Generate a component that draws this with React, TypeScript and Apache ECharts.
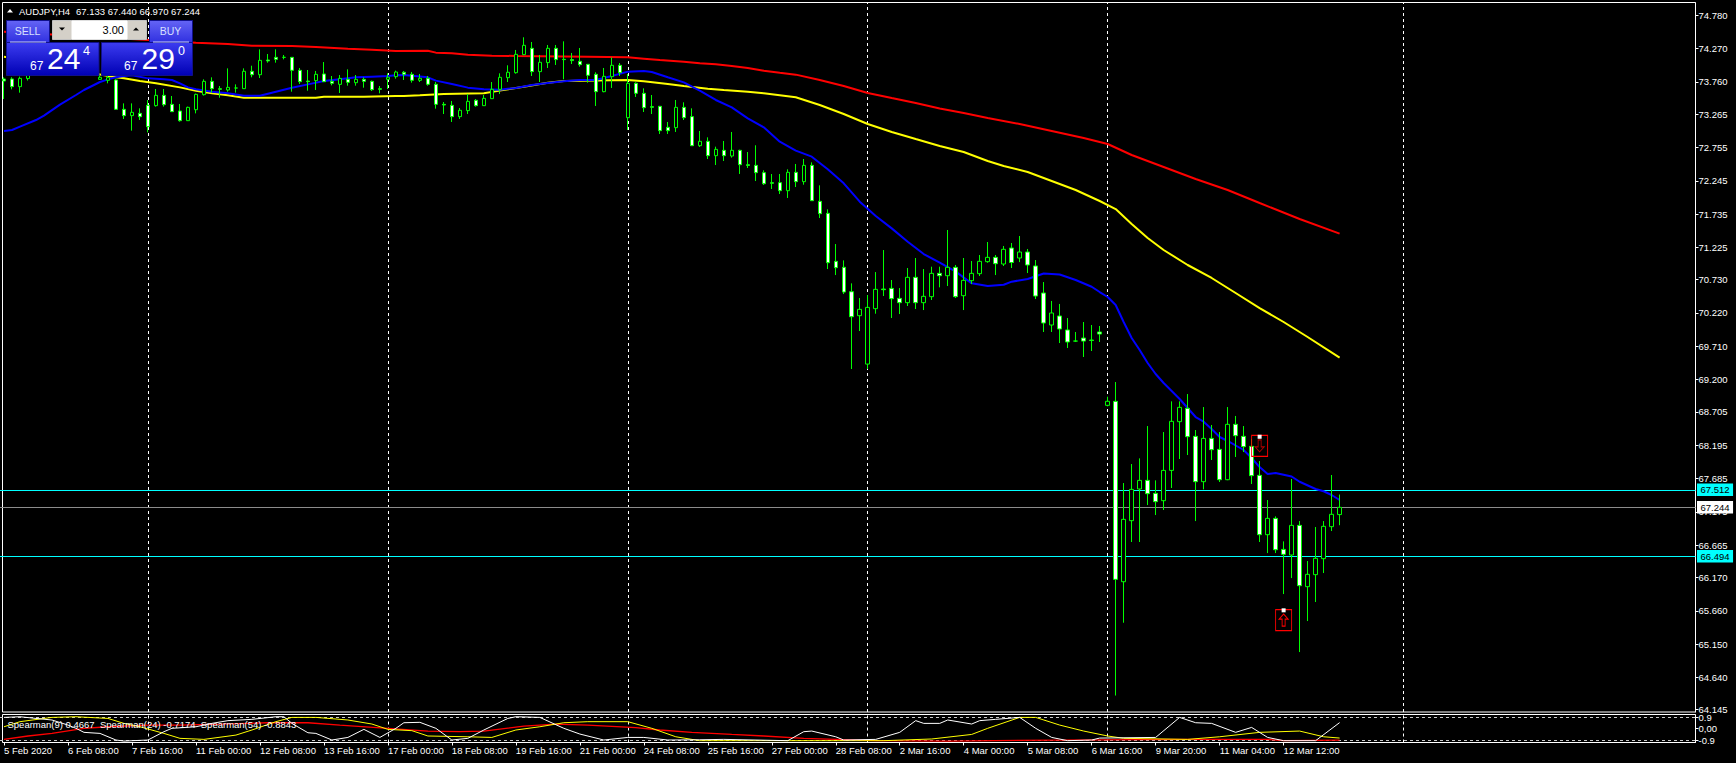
import React, { useEffect, useRef } from "react";
import * as echarts from "echarts";

const tickLabels = ["5 Feb 2020","6 Feb 08:00","7 Feb 16:00","11 Feb 00:00","12 Feb 08:00","13 Feb 16:00","17 Feb 00:00","18 Feb 08:00","19 Feb 16:00","21 Feb 00:00","24 Feb 08:00","25 Feb 16:00","27 Feb 00:00","28 Feb 08:00","2 Mar 16:00","4 Mar 00:00","5 Mar 08:00","6 Mar 16:00","9 Mar 20:00","11 Mar 04:00","12 Mar 12:00"];
const priceTicks = [74.78,74.27,73.76,73.265,72.755,72.245,71.735,71.225,70.73,70.22,69.71,69.2,68.705,68.195,67.685,67.175,66.665,66.17,65.66,65.15,64.64,64.145];
const oscTicks = [0.9,0,-0.9];

const opens = [
73.803,73.803,73.686,73.81,73.95,74.02,73.96,74.08,74.03,73.97,
74.05,73.98,73.798,73.783,73.788,73.339,73.242,73.277,73.40,73.395,
73.553,73.415,73.313,73.165,73.333,73.563,73.767,73.655,73.635,73.665,
73.655,73.921,73.869,74.094,74.135,74.135,74.135,73.936,73.772,73.778,
73.88,73.767,73.721,73.798,73.747,73.798,73.767,73.655,73.798,73.839,
73.906,73.875,73.783,73.814,73.722,73.415,73.40,73.227,73.319,73.477,
73.395,73.502,73.645,73.824,73.90,74.176,74.273,73.916,74.054,74.273,
74.105,74.10,74.074,74.028,73.875,73.609,73.839,74.013,73.211,73.737,
73.584,73.38,73.385,73.063,73.058,73.369,73.227,72.782,72.849,72.629,
72.711,72.624,72.711,72.491,72.481,72.369,72.216,72.216,72.093,72.374,
72.231,72.481,71.93,71.746,71.011,70.92,70.546,70.179,69.438,70.286,
70.587,70.597,70.444,70.378,70.766,70.378,70.47,70.827,70.791,70.919,
70.485,70.715,70.822,71.006,71.072,70.97,71.215,71.062,71.154,70.94,
70.526,70.036,70.174,69.96,69.79,69.836,69.806,69.929,68.806,68.867,
66.105,67.04,67.525,67.657,67.458,67.346,67.81,68.556,68.76,68.331,
67.637,68.30,68.132,67.667,68.515,68.331,68.178,67.734,66.825,67.075,
66.60,66.514,66.968,66.029,66.213,66.458,66.948,67.133];
const closes = [
73.773,73.686,73.813,73.95,74.02,73.96,74.08,74.03,73.97,74.05,
73.98,73.88,73.829,73.824,73.339,73.242,73.293,73.226,73.073,73.553,
73.41,73.303,73.165,73.369,73.568,73.767,73.655,73.645,73.675,73.665,
73.921,73.869,74.089,74.08,74.104,74.135,73.936,73.762,73.762,73.875,
73.762,73.737,73.813,73.752,73.798,73.767,73.64,73.645,73.829,73.91,
73.875,73.783,73.814,73.722,73.415,73.405,73.227,73.324,73.461,73.395,
73.507,73.645,73.829,73.906,74.181,74.319,73.916,74.059,74.273,74.10,
74.10,74.085,74.023,73.86,73.609,73.844,74.013,73.90,73.737,73.584,
73.364,73.37,73.012,73.012,73.369,73.211,72.782,72.849,72.629,72.726,
72.629,72.711,72.491,72.48,72.369,72.20,72.206,72.093,72.374,72.231,
72.481,71.94,71.741,70.99,70.914,70.541,70.163,70.276,70.306,70.582,
70.577,70.439,70.378,70.766,70.378,70.475,70.827,70.791,70.919,70.47,
70.72,70.827,71.011,71.072,70.975,71.195,70.993,71.154,70.955,70.48,
70.067,70.22,69.975,69.776,69.79,69.79,69.80,69.898,68.868,66.141,
67.06,67.519,67.657,67.453,67.331,67.81,68.561,68.775,68.326,67.637,
68.30,68.127,67.667,68.515,68.341,68.173,67.729,66.825,67.075,66.595,
66.524,66.968,66.044,66.218,66.463,66.953,67.137,67.244];
const lows = [
73.497,73.645,73.594,73.78,73.90,73.92,73.94,73.98,73.93,73.94,
73.92,73.86,73.79,73.737,73.33,73.191,73.012,73.175,72.986,73.38,
73.38,73.30,73.15,73.16,73.277,73.55,73.594,73.517,73.609,73.594,
73.65,73.829,73.818,74.053,74.053,74.104,73.609,73.727,73.624,73.635,
73.757,73.706,73.589,73.701,73.701,73.67,73.619,73.584,73.65,73.808,
73.788,73.747,73.757,73.701,73.349,73.267,73.145,73.191,73.267,73.38,
73.39,73.50,73.574,73.757,73.885,74.17,73.849,73.757,73.972,74.018,
73.798,74.033,73.992,73.747,73.39,73.60,73.666,73.849,73.022,73.528,
73.298,73.267,72.961,72.961,72.992,73.175,72.777,72.762,72.578,72.486,
72.548,72.599,72.349,72.44,72.241,72.18,72.119,72.042,71.981,72.149,
72.185,71.935,71.674,70.893,70.801,70.51,69.362,69.944,69.362,70.209,
70.48,70.143,70.204,70.327,70.281,70.265,70.419,70.613,70.633,70.449,
70.265,70.664,70.786,70.99,70.801,70.939,70.909,70.999,70.832,70.434,
69.929,69.929,69.76,69.684,69.776,69.546,69.638,69.776,68.79,64.362,
65.477,66.713,66.713,67.279,67.126,67.203,67.54,67.984,68.045,67.034,
67.519,67.969,67.632,67.66,68.015,68.091,67.601,66.713,66.544,66.544,
65.916,66.161,65.028,65.503,65.794,66.238,66.881,66.97];
const highs = [
73.829,73.83,73.84,74.00,74.08,74.06,74.14,74.12,74.06,74.10,
74.08,74.00,73.86,73.85,73.80,73.43,73.43,73.354,73.481,73.65,
73.65,73.543,73.42,73.38,73.58,73.798,73.829,73.696,73.966,73.721,
73.966,74.007,74.257,74.186,74.257,74.171,74.14,73.972,73.941,73.926,
74.063,73.849,73.864,73.951,73.864,73.829,73.78,73.696,73.89,73.931,
73.926,73.911,73.88,73.849,73.757,73.451,73.467,73.359,73.574,73.497,
73.558,73.757,73.89,74.013,74.248,74.442,74.37,74.171,74.324,74.324,
74.38,74.202,74.278,74.03,73.906,73.972,74.135,74.048,73.88,73.752,
73.66,73.558,73.39,73.145,73.482,73.446,73.354,73.007,72.91,72.767,
72.854,72.992,72.72,72.685,72.788,72.405,72.348,72.348,72.42,72.502,
72.578,72.527,72.175,71.807,71.276,71.026,70.674,70.449,70.495,70.847,
71.184,70.725,70.602,70.909,71.062,70.893,70.929,70.929,71.491,70.955,
71.062,71.016,71.108,71.307,71.108,71.246,71.292,71.399,71.20,71.031,
70.694,70.404,70.358,70.143,69.929,70.082,70.036,70.021,68.938,69.163,
67.616,67.907,67.994,68.489,67.657,68.397,68.867,68.867,68.979,68.428,
68.78,68.505,68.397,68.78,68.643,68.489,68.29,67.953,67.356,67.106,
66.723,67.678,67.034,66.422,66.943,67.034,67.739,67.44];

const blueMA = [[0,73.007],[1,73.022],[2,73.073],[4,73.175],[5,73.242],[7,73.41],[9,73.558],[10,73.635],[12,73.757],[13,73.798],[14,73.829],[15,73.849],[16,73.859],[18,73.813],[20,73.798],[21,73.788],[22,73.737],[23,73.675],[24,73.645],[26,73.609],[28,73.584],[30,73.548],[32,73.548],[34,73.609],[36,73.67],[38,73.721],[40,73.772],[42,73.798],[44,73.829],[46,73.839],[48,73.849],[49,73.859],[50,73.865],[53,73.829],[54,73.778],[56,73.727],[58,73.671],[60,73.645],[62,73.64],[64,73.666],[66,73.712],[68,73.742],[70,73.768],[72,73.788],[74,73.788],[76,73.849],[78,73.916],[80,73.926],[81,73.911],[83,73.829],[85,73.752],[87,73.625],[89,73.482],[91,73.369],[93,73.2],[95,73.063],[97,72.843],[99,72.706],[101,72.614],[103,72.42],[105,72.205],[107,71.925],[109,71.705],[111,71.516],[113,71.312],[115,71.123],[117,70.99],[119,70.853],[121,70.674],[123,70.633],[125,70.653],[126,70.7],[128,70.74],[130,70.825],[132,70.809],[134,70.725],[136,70.622],[137,70.541],[138,70.465],[139,70.342],[140,70.082],[141,69.837],[142,69.653],[143,69.454],[144,69.286],[145,69.148],[147,68.903],[148,68.765],[149,68.627],[150,68.555],[151,68.443],[152,68.321],[153,68.26],[155,68.122],[156,68.0],[157,67.86],[158,67.754],[159,67.77],[161,67.716],[162,67.636],[164,67.525],[165,67.49],[166,67.433],[167,67.356]];
const yellowMA = [[0,74.145],[5,74.043],[10,73.915],[14,73.829],[15,73.813],[17,73.772],[19,73.737],[22,73.675],[24,73.624],[26,73.584],[28,73.553],[30,73.517],[39,73.517],[40,73.533],[45,73.533],[49,73.543],[50,73.543],[52,73.553],[55,73.574],[60,73.584],[62,73.625],[65,73.686],[68,73.747],[70,73.773],[78,73.788],[80,73.768],[83,73.727],[85,73.696],[88,73.655],[90,73.635],[93,73.609],[95,73.584],[99,73.523],[102,73.405],[105,73.267],[108,73.114],[111,72.992],[114,72.884],[117,72.777],[120,72.685],[123,72.547],[125,72.471],[128,72.379],[131,72.241],[134,72.103],[137,71.935],[139,71.812],[141,71.583],[143,71.368],[145,71.185],[148,70.955],[151,70.756],[154,70.526],[157,70.296],[160,70.082],[163,69.852],[167,69.537]];
const redMA = [[0,74.528],[24,74.36],[28,74.339],[31,74.314],[36,74.309],[39,74.293],[43,74.268],[46,74.252],[49,74.232],[53,74.237],[54,74.207],[56,74.197],[58,74.176],[61,74.161],[64,74.156],[73,74.145],[78,74.135],[80,74.115],[82,74.094],[85,74.069],[87,74.043],[89,74.028],[91,74.003],[93,73.972],[95,73.931],[97,73.9],[99,73.87],[102,73.788],[105,73.696],[108,73.589],[111,73.512],[114,73.436],[117,73.351],[120,73.282],[123,73.206],[127,73.114],[131,73.007],[135,72.9],[138,72.808],[141,72.639],[145,72.456],[149,72.272],[153,72.103],[157,71.904],[162,71.659],[167,71.436]];

const oscWhite = [[0,.87],[2,.92],[4,.79],[6,.67],[8,.28],[9,.03],[10,-.28],[12,-.36],[14,-.87],[15,-.95],[18,-.87],[20,-.23],[21,.03],[24,.15],[26,.41],[28,.62],[31,.72],[34,.92],[35,.92],[36,.41],[38,-.31],[39,-.36],[41,-.87],[43,-.67],[45,-.05],[47,-.67],[49,.03],[50,.46],[52,.49],[54,.03],[56,-.87],[58,-.74],[60,-.1],[63,.79],[64,.92],[67,.87],[70,.03],[72,-.41],[75,-.87],[78,-.67],[80,-.67],[83,-.87],[87,-.85],[90,-.82],[98,-.92],[100,-.23],[101,-.18],[104,-.62],[105,-.87],[109,-.82],[112,-.28],[114,.62],[115,.41],[117,.41],[118,.67],[121,.36],[122,.62],[124,.72],[127,.87],[129,.03],[131,-.67],[133,-.92],[136,-.87],[137,-.72],[144,-.67],[147,.87],[149,.46],[151,.41],[154,-.28],[156,.1],[158,-.67],[160,-.92],[164,-.92],[167,.4667]];
const oscYellow = [[0,.15],[2,.54],[6,.87],[9,.92],[13,.79],[15,.41],[17,.15],[20,-.36],[22,-.74],[25,-.82],[29,-.49],[31,-.1],[34,.54],[36,.87],[39,.87],[43,.67],[46,.36],[48,-.05],[51,-.15],[53,-.56],[58,-.62],[61,-.67],[64,-.1],[67,.15],[70,.46],[73,.54],[78,.54],[81,.03],[84,-.62],[87,-.92],[110,-.92],[116,-.79],[121,-.44],[123,.03],[127,.87],[129,.87],[132,.28],[135,-.18],[138,-.56],[140,-.74],[148,-.82],[152,-.62],[157,-.28],[162,-.18],[165,-.62],[167,-.7174]];
const oscRed = [[0,-.82],[3,-.56],[6,-.36],[10,.03],[13,.15],[18,.28],[22,.28],[27,.36],[33,.46],[38,.46],[42,.28],[48,.03],[53,-.18],[57,-.23],[60,-.18],[65,.2],[69,.36],[73,.28],[79,.08],[82,-.1],[86,-.28],[91,-.44],[95,-.56],[100,-.74],[104,-.82],[109,-.92],[118,-.95],[132,-.87],[148,-.82],[158,-.82],[160,-.92],[167,-.8843]];

const separators = [18,48,78,108,138,175];
const supportLevels = [67.512,66.494];
const lastPrice = 67.244;
const sellMarker = [157,68.186];
const sellDot = [157,68.325];
const buyMarker = [160,65.518];
const buyDot = [160,65.667];

const BAR_SLOTS = 212;
const LABEL_EVERY = 8;
const FONT = "'Liberation Sans', Arial, sans-serif";
const GREEN = "#00ff00";
const categories = Array.from({ length: BAR_SLOTS }, (_, i) => (i % LABEL_EVERY === 0 ? tickLabels[i / LABEL_EVERY] ?? "" : ""));
const candles = opens.map((o, i) => [o, closes[i], lows[i], highs[i]]);

const downArrow = "path://M3 0 L6 0 L6 7 L9 7 L4.5 12 L0 7 L3 7 Z";
const upArrow = "path://M4.5 0 L9 5 L6 5 L6 12 L3 12 L3 5 L0 5 Z";

const txt = (text: string, x: number, y: number, fontSize: number, fill = "#fff", align = "left") => ({
  type: "text", x, y, z: 101, silent: true,
  style: { text, fontSize, fill, fontFamily: FONT, align, verticalAlign: "middle" },
});
const panelFill = (c1: string, c2: string) => new echarts.graphic.LinearGradient(0, 0, 0, 1, [{ offset: 0, color: c1 }, { offset: 1, color: c2 }]);
const box = (x: number, y: number, width: number, height: number, fill: any, stroke = "#10108c") => ({
  type: "rect", z: 100, silent: true, shape: { x, y, width, height }, style: { fill, stroke, lineWidth: 1 },
});
const tri = (points: number[][], fill: string, z = 101) => ({ type: "polygon", z, silent: true, shape: { points }, style: { fill } });

function buildOption() {
  const vLines = separators.map((xAxis) => ({ xAxis }));
  const sepStyle = { color: "#ffffff", type: [3, 3], width: 1 };
  const hLabel = (bg: string) => ({
    show: true, position: "end", distance: 1.5, color: "#000", backgroundColor: bg,
    fontSize: 9.5, fontFamily: FONT, padding: [1.5, 3.5, 1, 3.5],
    formatter: (p: any) => Number(p.value).toFixed(3),
  });
  return {
    animation: false,
    backgroundColor: "#000",
    grid: [
      { left: -0.5, width: 1696, top: 3, height: 709 },
      { left: -0.5, width: 1696, top: 715, height: 27.5 },
    ],
    xAxis: [
      { type: "category", gridIndex: 0, data: categories, show: false },
      {
        type: "category", gridIndex: 1, data: categories, position: "bottom",
        axisLine: { show: false, onZero: false },
        axisTick: { show: true, alignWithLabel: true, length: 3, lineStyle: { color: "#fff" }, interval: (_: number, v: string) => v !== "" },
        axisLabel: { color: "#fff", fontSize: 9.5, fontFamily: FONT, align: "left", margin: 3, interval: LABEL_EVERY - 1, hideOverlap: false },
      },
    ],
    yAxis: [
      {
        type: "value", gridIndex: 0, position: "right", min: 64.11, max: 74.967, scale: true, splitLine: { show: false },
        axisLine: { show: true, lineStyle: { color: "#fff" } },
        axisTick: { show: true, length: 3, lineStyle: { color: "#fff" }, customValues: priceTicks },
        axisLabel: { color: "#fff", fontSize: 9.5, fontFamily: FONT, margin: 3, customValues: priceTicks, formatter: (v: number) => v.toFixed(3), showMinLabel: true, showMaxLabel: true },
      },
      {
        type: "value", gridIndex: 1, position: "right", min: -1.06, max: 1.054, splitLine: { show: false },
        axisLine: { show: true, lineStyle: { color: "#fff" } },
        axisTick: { show: true, length: 3, lineStyle: { color: "#fff" }, customValues: oscTicks },
        axisLabel: { color: "#fff", fontSize: 9.5, fontFamily: FONT, margin: 3, customValues: oscTicks, formatter: (v: number) => (v === 0 ? "0,00" : String(v)), showMinLabel: true, showMaxLabel: true },
      },
    ],
    series: [
      {
        name: "MA red", type: "line", xAxisIndex: 0, yAxisIndex: 0, data: redMA, z: 3, showSymbol: false, silent: true,
        lineStyle: { color: "#ff0000", width: 2 },
        markLine: {
          z: 1, silent: true, symbol: "none", animation: false, precision: 3,
          data: [
            ...vLines.map((d) => ({ ...d, lineStyle: sepStyle, label: { show: false } })),
            ...supportLevels.map((yAxis) => ({ yAxis, lineStyle: { color: "#00ffff", width: 1, type: "solid" }, label: hLabel("#00ffff") })),
            { yAxis: lastPrice, lineStyle: { color: "#8c8c8c", width: 1, type: "solid" }, label: hLabel("#ffffff") },
          ],
        },
      },
      { name: "MA yellow", type: "line", xAxisIndex: 0, yAxisIndex: 0, data: yellowMA, z: 3, showSymbol: false, silent: true, lineStyle: { color: "#ffff00", width: 2 } },
      { name: "MA blue", type: "line", xAxisIndex: 0, yAxisIndex: 0, data: blueMA, z: 4, showSymbol: false, silent: true, lineStyle: { color: "#0000ff", width: 2 } },
      {
        name: "AUDJPY", type: "candlestick", xAxisIndex: 0, yAxisIndex: 0, data: candles, z: 5, barWidth: 4, silent: true,
        itemStyle: { color: "#000000", color0: "#ffffff", borderColor: GREEN, borderColor0: GREEN, borderColorDoji: GREEN, borderWidth: 1 },
      },
      { type: "scatter", xAxisIndex: 0, yAxisIndex: 0, z: 6, silent: true, symbol: "rect", symbolSize: [16, 21], data: [sellMarker, buyMarker], itemStyle: { color: "rgba(0,0,0,0)", borderColor: "#ff0000", borderWidth: 1, opacity: 1 } },
      { type: "scatter", xAxisIndex: 0, yAxisIndex: 0, z: 6, silent: true, symbol: downArrow, symbolSize: [9, 12], data: [sellMarker], itemStyle: { color: "#000", borderColor: "#b00000", borderWidth: 1, opacity: 1 } },
      { type: "scatter", xAxisIndex: 0, yAxisIndex: 0, z: 6, silent: true, symbol: upArrow, symbolSize: [9, 12], data: [buyMarker], itemStyle: { color: "#000", borderColor: "#ff0000", borderWidth: 1, opacity: 1 } },
      { type: "scatter", xAxisIndex: 0, yAxisIndex: 0, z: 7, silent: true, symbol: "rect", symbolSize: 4, data: [sellDot, buyDot], itemStyle: { color: "#fff", opacity: 1 } },
      {
        name: "Spearman(54)", type: "line", xAxisIndex: 1, yAxisIndex: 1, data: oscRed, z: 3, showSymbol: false, silent: true,
        lineStyle: { color: "#ff0000", width: 1.3 },
        markLine: {
          z: 1, silent: true, symbol: "none", animation: false,
          data: [
            ...vLines.map((d) => ({ ...d, lineStyle: sepStyle, label: { show: false } })),
            ...[0.9, -0.9].map((yAxis) => ({ yAxis, lineStyle: { color: "#c8c8c8", type: [3, 3], width: 1 }, label: { show: false } })),
          ],
        },
      },
      { name: "Spearman(24)", type: "line", xAxisIndex: 1, yAxisIndex: 1, data: oscYellow, z: 3, showSymbol: false, silent: true, lineStyle: { color: "#ffff00", width: 1 } },
      { name: "Spearman(9)", type: "line", xAxisIndex: 1, yAxisIndex: 1, data: oscWhite, z: 3, showSymbol: false, silent: true, lineStyle: { color: "#ffffff", width: 1 } },
    ],
    graphic: [
      { type: "rect", silent: true, z: 0, shape: { x: 2.5, y: 2.5, width: 1693, height: 709.5 }, style: { fill: "none", stroke: "#fff", lineWidth: 1 } },
      { type: "rect", silent: true, z: 0, shape: { x: 2.5, y: 714.5, width: 1693, height: 28 }, style: { fill: "none", stroke: "#fff", lineWidth: 1 } },
      tri([[7, 12.5], [13, 12.5], [10, 9]], "#fff"),
      txt("AUDJPY,H4", 19, 11, 9.5),
      txt("67.133 67.440 66.970 67.244", 76, 11, 9.5),
      txt("Spearman(9) 0.4667  Spearman(24) -0.7174  Spearman(54) -0.8843", 7.5, 724, 9.5),
      // trade panel
      box(6.5, 20.5, 43, 22, panelFill("#6464f5", "#3030e0")),
      box(149.5, 20.5, 43, 22, panelFill("#6464f5", "#3030e0")),
      box(6.5, 42.5, 92.5, 33, panelFill("#3c3cf0", "#0000b4")),
      box(101.5, 42.5, 91, 33, panelFill("#3c3cf0", "#0000b4")),
      txt("SELL", 27.5, 31, 10.5, "#d8e0ff", "center"),
      txt("BUY", 170.5, 31, 10.5, "#d8e0ff", "center"),
      { type: "rect", z: 101, silent: true, shape: { x: 10, y: 41.5, width: 36, height: 1 }, style: { fill: "#c8d0ff" } },
      { type: "rect", z: 101, silent: true, shape: { x: 153, y: 41.5, width: 36, height: 1 }, style: { fill: "#c8d0ff" } },
      box(52.5, 20.5, 94, 19, "#d4d0c8", "#c0c0c0"),
      box(72, 21, 55, 18, "#ffffff", "#ffffff"),
      tri([[59, 27.5], [65, 27.5], [62, 30.5]], "#000", 102),
      tri([[133, 30.5], [139, 30.5], [136, 27.5]], "#000", 102),
      txt("3.00", 124, 30, 11, "#000", "right"),
      txt("67", 30, 65.5, 12),
      txt("24", 47, 58.5, 30),
      txt("4", 83, 51, 12.5),
      txt("67", 124, 65.5, 12),
      txt("29", 141.5, 58.5, 30),
      txt("0", 178, 51, 12.5),
    ],
  };
}

export default function App() {
  const ref = useRef<HTMLDivElement>(null);
  useEffect(() => {
    document.body.style.margin = "0";
    document.body.style.background = "#000";
    const chart = echarts.init(ref.current as HTMLDivElement, undefined, { renderer: "svg" });
    chart.setOption(buildOption() as any);
    return () => chart.dispose();
  }, []);
  return <div ref={ref} style={{ width: 1736, height: 763, background: "#000" }} />;
}
